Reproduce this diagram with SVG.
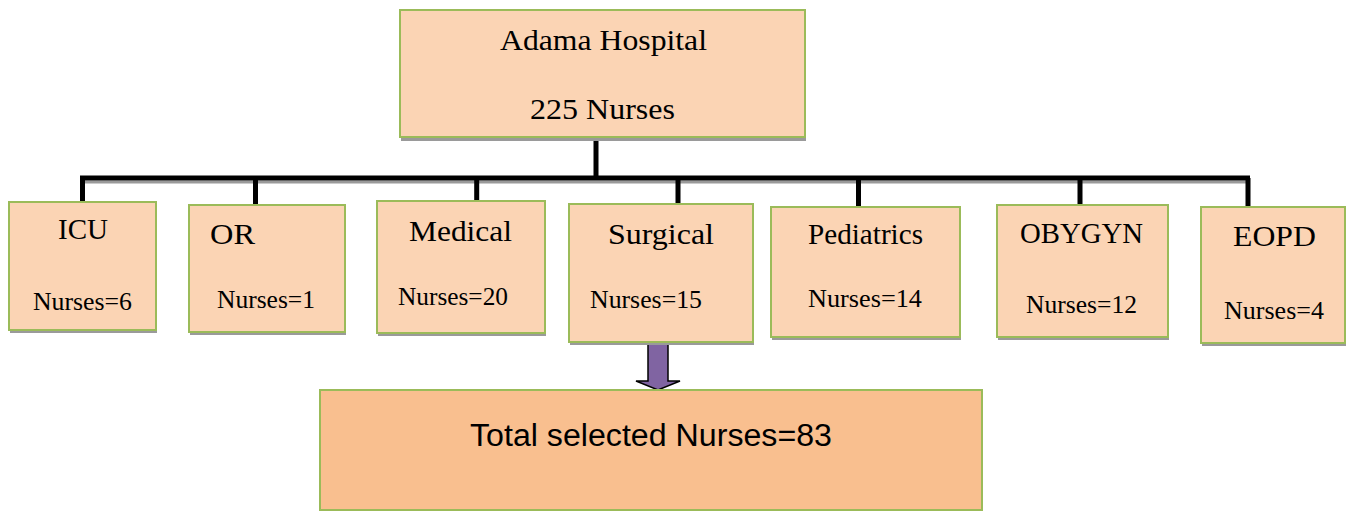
<svg xmlns="http://www.w3.org/2000/svg" width="1346" height="512" viewBox="0 0 1346 512">
<style>
.box{fill:#FBD4B4;stroke:#9BBB59;stroke-width:2}
.tot{fill:#F9BF8F;stroke:#9BBB59;stroke-width:2}
.sh{fill:#9a9a9a}
.lbl{font-family:"Liberation Serif","Times New Roman",serif;font-size:29px;fill:#000}
.num{font-family:"Liberation Serif","Times New Roman",serif;font-size:26px;fill:#000}
.big{font-family:"Liberation Serif","Times New Roman",serif;font-size:29px;fill:#000}
.sans{font-family:"Liberation Sans",Arial,sans-serif;font-size:31px;fill:#000}
.ln{stroke:#000;stroke-width:5;fill:none}
.lsh{stroke:#9a9a9a;stroke-width:3;fill:none}
</style>
<g id="connectors">
<path class="lsh" d="M82,182 H1250"/>
<path class="ln" d="M596,137 V178 M80,178 H1250 M82.5,178 V202 M255.5,178 V205 M476.7,178 V201 M678,178 V204 M858.5,178 V207 M1080,178 V205 M1248,178 V207"/>
<polygon points="648,342 668,342 668,381 680,381 658,390 636,381 648,381" fill="#8064A2" stroke="#000" stroke-width="1.5"/>
</g>
<g id="hospital">
<rect class="sh" x="401" y="137" width="405" height="4"/>
<rect class="box" x="400" y="10" width="405" height="127"/>
<text class="big" x="500" y="50" textLength="207" lengthAdjust="spacingAndGlyphs">Adama Hospital</text>
<text class="big" x="530" y="119" textLength="145" lengthAdjust="spacingAndGlyphs">225 Nurses</text>
</g>
<g id="icu">
<rect class="sh" x="10" y="330" width="147" height="3"/>
<rect class="box" x="9" y="202" width="147" height="128"/>
<text class="lbl" x="58" y="239" textLength="50" lengthAdjust="spacingAndGlyphs">ICU</text>
<text class="num" x="33" y="310" textLength="99" lengthAdjust="spacingAndGlyphs">Nurses=6</text>
</g>
<g id="or">
<rect class="sh" x="190" y="332" width="156" height="3"/>
<rect class="box" x="189" y="205" width="156" height="127"/>
<text class="lbl" x="210" y="244" textLength="45" lengthAdjust="spacingAndGlyphs">OR</text>
<text class="num" x="217" y="308" textLength="98" lengthAdjust="spacingAndGlyphs">Nurses=1</text>
</g>
<g id="medical">
<rect class="sh" x="378" y="333" width="168" height="3"/>
<rect class="box" x="377" y="201" width="168" height="132"/>
<text class="lbl" x="409" y="241" textLength="103" lengthAdjust="spacingAndGlyphs">Medical</text>
<text class="num" x="398" y="305" textLength="110" lengthAdjust="spacingAndGlyphs">Nurses=20</text>
</g>
<g id="surgical">
<rect class="sh" x="570" y="342" width="184" height="3"/>
<rect class="box" x="569" y="204" width="184" height="138"/>
<text class="lbl" x="608" y="244" textLength="106" lengthAdjust="spacingAndGlyphs">Surgical</text>
<text class="num" x="590" y="308" textLength="112" lengthAdjust="spacingAndGlyphs">Nurses=15</text>
</g>
<g id="pediatrics">
<rect class="sh" x="772" y="337" width="189" height="3"/>
<rect class="box" x="771" y="207" width="189" height="130"/>
<text class="lbl" x="808" y="244" textLength="115" lengthAdjust="spacingAndGlyphs">Pediatrics</text>
<text class="num" x="808" y="307" textLength="114" lengthAdjust="spacingAndGlyphs">Nurses=14</text>
</g>
<g id="obygyn">
<rect class="sh" x="998" y="337" width="171" height="3"/>
<rect class="box" x="997" y="205" width="171" height="132"/>
<text class="lbl" x="1020" y="243" textLength="123" lengthAdjust="spacingAndGlyphs">OBYGYN</text>
<text class="num" x="1026" y="313" textLength="111" lengthAdjust="spacingAndGlyphs">Nurses=12</text>
</g>
<g id="eopd">
<rect class="sh" x="1202" y="343" width="150" height="3"/>
<rect class="box" x="1201" y="207" width="144" height="136"/>
<text class="lbl" x="1233" y="246" textLength="83" lengthAdjust="spacingAndGlyphs">EOPD</text>
<text class="num" x="1224" y="319" textLength="100" lengthAdjust="spacingAndGlyphs">Nurses=4</text>
</g>
<g id="total">
<rect class="tot" x="320" y="390" width="662" height="120"/>
<text class="sans" x="470" y="446" textLength="362" lengthAdjust="spacingAndGlyphs">Total selected Nurses=83</text>
</g>
</svg>
